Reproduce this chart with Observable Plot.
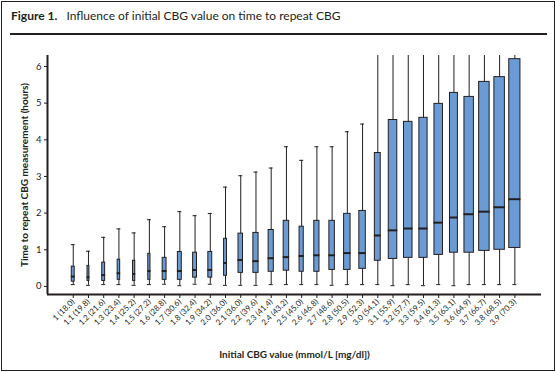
<!DOCTYPE html>
<html>
<head>
<meta charset="utf-8">
<script src="https://cdn.jsdelivr.net/npm/d3@7"></script>
<script src="https://cdn.jsdelivr.net/npm/@observablehq/plot@0.6"></script>
<style>
  html, body { margin: 0; padding: 0; background: #fff; overflow: hidden; }
  #wrap { position: relative; width: 556px; height: 372px; font-family: Lato, "Open Sans", sans-serif; color: #231f20; }
  #border { position: absolute; left: 1px; top: 1px; width: 552px; height: 368px; border: 1px solid #231f20; }
  #title { position: absolute; left: 11px; top: 9px; font-size: 12px; line-height: 14px; white-space: nowrap; }
  #title b { margin-right: 9px; }
  #rule { position: absolute; left: 10px; top: 33px; width: 537px; height: 2px; background: #231f20; }
  #chart { position: absolute; left: 0; top: 40px; }
</style>
</head>
<body>
<div id="wrap">
  <div id="border"></div>
  <div id="title"><b>Figure 1.</b>Influence of initial CBG value on time to repeat CBG</div>
  <div id="rule"></div>
  <div id="chart"></div>
</div>
<script>
const categories = ["1 (18.0)", "1.1 (19.8)", "1.2 (21.6)", "1.3 (23.4)", "1.4 (25.2)", "1.5 (27.2)",
  "1.6 (28.8)", "1.7 (30.6)", "1.8 (32.4)", "1.9 (34.2)", "2.0 (36.0)", "2.1 (36.0)", "2.2 (39.6)",
  "2.3 (41.4)", "2.4 (43.2)", "2.5 (45.0)", "2.6 (46.8)", "2.7 (48.6)", "2.8 (50.5)", "2.9 (52.3)",
  "3.0 (54.1)", "3.1 (55.9)", "3.2 (57.7)", "3.3 (59.5)", "3.4 (61.3)", "3.5 (63.1)", "3.6 (64.9)",
  "3.7 (66.7)", "3.8 (68.5)", "3.9 (70.3)"];
const whiskerLow = [0.05, 0.03, 0.05, 0.05, 0.03, 0.05, 0.06, 0.02, 0.06, 0.06, 0.03, 0.03, 0.03, 0.05, 0.05,
  0.05, 0.05, 0.03, 0.05, 0.05, 0.05, 0.02, 0.05, 0.02, 0.05, 0.02, 0.05, 0.05, 0.05, 0.05];
const q1 = [0.13, 0.15, 0.15, 0.18, 0.15, 0.18, 0.18, 0.18, 0.24, 0.24, 0.29, 0.37, 0.37, 0.40, 0.43,
  0.40, 0.40, 0.45, 0.45, 0.48, 0.70, 0.75, 0.78, 0.78, 0.86, 0.92, 0.92, 0.97, 1.00, 1.05];
const median = [0.27, 0.25, 0.31, 0.36, 0.34, 0.42, 0.42, 0.42, 0.45, 0.45, 0.64, 0.72, 0.69, 0.77, 0.80,
  0.83, 0.85, 0.85, 0.91, 0.91, 1.39, 1.53, 1.58, 1.58, 1.74, 1.88, 1.97, 2.04, 2.16, 2.38];
const q3 = [0.54, 0.56, 0.65, 0.73, 0.70, 0.89, 0.78, 0.94, 0.92, 0.94, 1.30, 1.44, 1.46, 1.54, 1.79,
  1.63, 1.79, 1.79, 1.98, 2.06, 3.64, 4.54, 4.49, 4.60, 4.98, 5.28, 5.17, 5.58, 5.71, 6.20];
const whiskerHigh = [1.14, 0.96, 1.34, 1.57, 1.46, 1.82, 1.63, 2.04, 1.93, 1.99, 2.71, 3.02, 3.12, 3.23, 3.81,
  3.44, 3.81, 3.81, 4.22, 4.43, 6.9, 7.3, 7.1, 7.2, 7.6, 7.8, 7.9, 8.2, 8.4, 8.8];
// relative box width (sample-size weighting), in units of one category step
const relWidth = [0.19, 0.125, 0.19, 0.165, 0.145, 0.145, 0.255, 0.255, 0.255, 0.255, 0.19, 0.295, 0.34, 0.34, 0.36,
  0.275, 0.34, 0.36, 0.425, 0.425, 0.385, 0.56, 0.56, 0.54, 0.56, 0.52, 0.62, 0.69, 0.69, 0.735];
const yTicks = [0, 1, 2, 3, 4, 5, 6];

const data = categories.map((c, i) => ({
  i, c, lo: whiskerLow[i], q1: q1[i], med: median[i], q3: q3[i], hi: whiskerHigh[i], w: relWidth[i]
}));

const ink = "#231f20";
const capHalf = 0.13;
const xDomain = [-1.69, categories.length - 1 + 1.75];
const yDomain = [-0.22, 6.3];

const chart = Plot.plot({
  width: 556,
  height: 330,
  marginTop: 15,
  marginBottom: 76,
  marginLeft: 47,
  marginRight: 15,
  style: {fontFamily: "Lato, 'Open Sans', sans-serif", color: ink, background: "transparent", overflow: "visible"},
  x: {type: "linear", domain: xDomain},
  y: {type: "linear", domain: yDomain},
  marks: [
    Plot.axisY({
      ticks: yTicks, tickFormat: d => String(d), tickSize: 3, tickPadding: 3, fontSize: 9.5,
      label: "Time to repeat CBG measurement (hours)", labelAnchor: "center", labelOffset: 27,
      labelArrow: "none"
    }),
    Plot.axisX({
      ticks: data.map(d => d.i), tickFormat: i => categories[i], tickRotate: -45,
      tickSize: 4, tickPadding: 2, fontSize: 8, label: null
    }),
    Plot.axisX({
      ticks: [], tickSize: 0,
      label: "Initial CBG value (mmol/L [mg/dl])", labelAnchor: "center", labelOffset: 63,
      labelArrow: "none"
    }),
    Plot.ruleX([xDomain[0]], {stroke: ink, strokeWidth: 2}),
    Plot.ruleY([yDomain[0]], {stroke: ink, strokeWidth: 2}),
    Plot.ruleX(data, {x: "i", y1: "lo", y2: "hi", stroke: ink, strokeWidth: 1, clip: true}),
    Plot.ruleY(data, {y: "lo", x1: d => d.i - capHalf, x2: d => d.i + capHalf, stroke: ink, strokeWidth: 1, clip: true}),
    Plot.ruleY(data, {y: "hi", x1: d => d.i - capHalf, x2: d => d.i + capHalf, stroke: ink, strokeWidth: 1, clip: true}),
    Plot.rect(data, {x1: d => d.i - d.w / 2, x2: d => d.i + d.w / 2, y1: "q1", y2: "q3",
      fill: "#6b9bd5", stroke: ink, strokeWidth: 1}),
    Plot.ruleY(data, {y: "med", x1: d => d.i - d.w / 2 - 0.03, x2: d => d.i + d.w / 2 + 0.03, stroke: ink, strokeWidth: 2})
  ]
});

// bold axis titles
chart.querySelectorAll("g[aria-label='y-axis label'] text, g[aria-label='x-axis label'] text")
  .forEach(t => { t.setAttribute("font-weight", "bold"); t.setAttribute("font-size", "10"); });

document.getElementById("chart").appendChild(chart);
</script>
</body>
</html>
